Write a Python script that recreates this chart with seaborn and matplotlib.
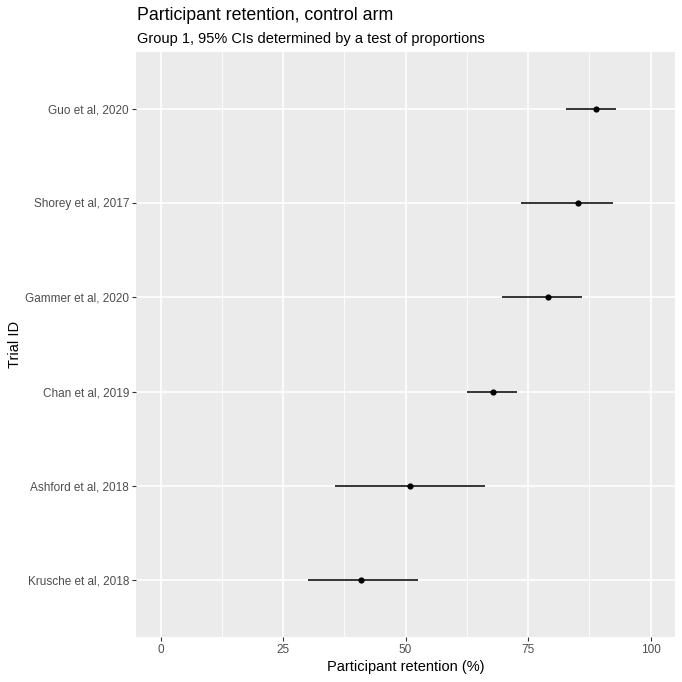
import matplotlib
matplotlib.use("Agg")
import matplotlib.pyplot as plt
import seaborn as sns
import pandas as pd
from matplotlib.ticker import FixedLocator

trials = ["Guo et al, 2020", "Shorey et al, 2017", "Gammer et al, 2020",
          "Chan et al, 2019", "Ashford et al, 2018", "Krusche et al, 2018"]
retention = [88.8, 85.2, 79.0, 67.9, 50.9, 40.9]
ci_low = [82.7, 73.5, 69.6, 62.6, 35.6, 30.1]
ci_high = [93.0, 92.4, 86.1, 72.8, 66.2, 52.5]
x_ticks = [0, 25, 50, 75, 100]

df = pd.DataFrame({"trial": trials, "retention": retention,
                   "lo": ci_low, "hi": ci_high})

sns.set_theme(style="darkgrid")
plt.rcParams["font.family"] = ["Liberation Sans", "DejaVu Sans"]

fig = plt.figure(figsize=(6.82, 6.82), dpi=100)
ax = fig.add_axes([136/682, 1-637/682, (675-136)/682, (637-52)/682])
ax.set_facecolor("#EBEBEB")

ax.hlines(y=df["trial"], xmin=df["lo"], xmax=df["hi"], color="black",
          linewidth=1.1, zorder=3)
sns.scatterplot(data=df, x="retention", y="trial", ax=ax, color="black",
                s=20, edgecolor="black", linewidth=0, zorder=4)

ax.set_xlim(-5, 105)
ax.set_ylim(len(trials) - 1 + 0.6, -0.6)
ax.xaxis.set_major_locator(FixedLocator(x_ticks))
ax.xaxis.set_minor_locator(FixedLocator([12.5, 37.5, 62.5, 87.5]))
ax.grid(which="major", color="white", linewidth=1.2)
ax.grid(which="minor", axis="x", color="white", linewidth=0.6)
ax.set_axisbelow(True)
for s in ax.spines.values():
    s.set_visible(False)

ax.tick_params(axis="both", which="major", length=3, width=0.8, color="#333333",
               labelsize=8.5, labelcolor="#4D4D4D", pad=2)
ax.tick_params(axis="both", which="minor", length=0)
ax.tick_params(axis="x", bottom=True)
ax.tick_params(axis="y", left=True)

ax.set_xlabel("Participant retention (%)", fontsize=10.5, color="black", labelpad=3)
ax.set_ylabel("Trial ID", fontsize=10.5, color="black")
ax.yaxis.set_label_coords((22 - 136) / 539, 0.5)

fig.text(137/682, 1-20/682, "Participant retention, control arm",
         fontsize=12.8, color="black", ha="left", va="baseline")
fig.text(137/682, 1-43/682, "Group 1, 95% CIs determined by a test of proportions",
         fontsize=10.5, color="black", ha="left", va="baseline")

fig.savefig("out.png", dpi=100)
